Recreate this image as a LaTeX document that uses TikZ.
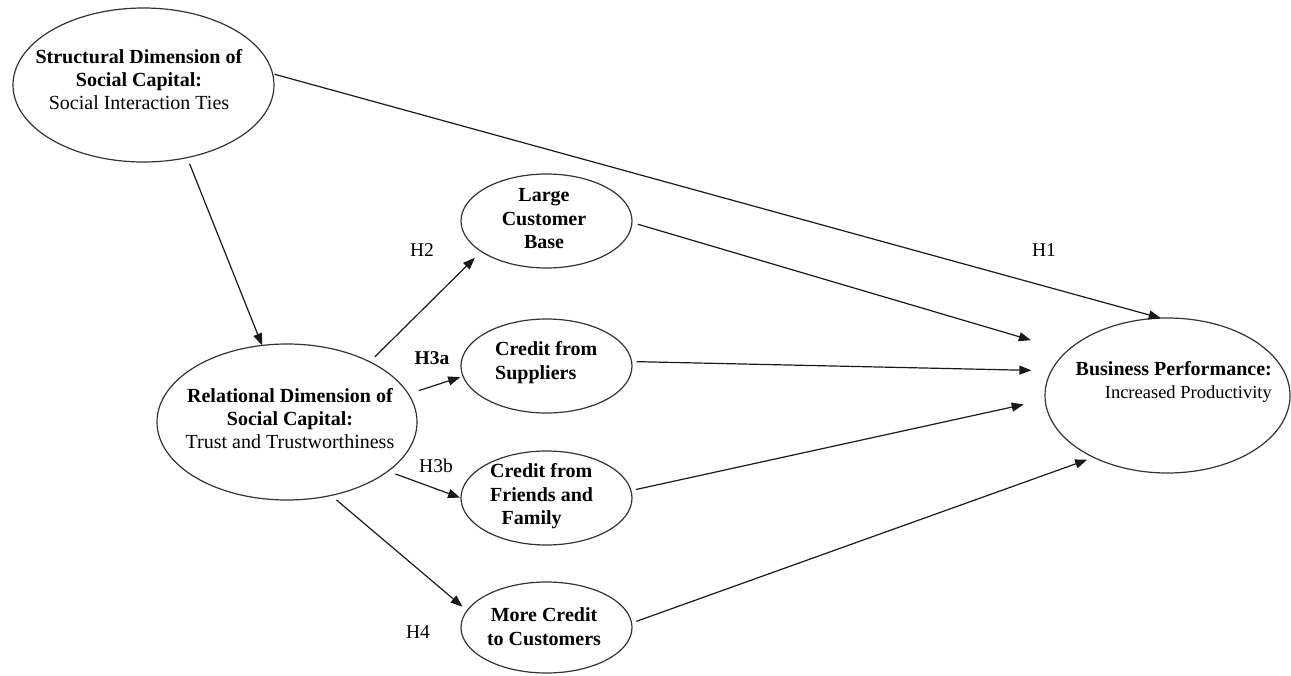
\documentclass[tikz,border=0pt]{standalone}
\usepackage{fontspec}
\setmainfont{Liberation Serif}
\usetikzlibrary{arrows.meta,shapes.geometric}
\begin{document}
\begin{tikzpicture}[x=1pt,y=-1pt,
  oval/.style={ellipse, draw=black!80, line width=1.2pt, inner sep=0pt, outer sep=0pt},
  txt/.style={font=\fontsize{20}{23}\selectfont, inner sep=0pt, align=center, text=black},
  hyp/.style={font=\fontsize{19.5}{22}\selectfont, inner sep=0pt, text=black},
  arr/.style={draw=black!90, line width=1.2pt, -{Triangle[length=12pt,width=9pt]}}]
\useasboundingbox (0,0) rectangle (1291,675);
% ellipses
\node[oval, minimum width=261pt, minimum height=154pt] (str) at (143.5,85) {};
\node[oval, minimum width=260pt, minimum height=156pt] (rel) at (287,422) {};
\node[oval, minimum width=171pt, minimum height=94pt] (lcb) at (546.5,221) {};
\node[oval, minimum width=171pt, minimum height=94pt] (cfs) at (546.5,366) {};
\node[oval, minimum width=171pt, minimum height=94pt] (cff) at (546.5,498) {};
\node[oval, minimum width=171pt, minimum height=91pt] (mcc) at (546.5,627.5) {};
\node[oval, minimum width=245pt, minimum height=155pt] (bp) at (1167.5,395.5) {};
% texts
\node[txt] (strt) at (139,80) {\textbf{Structural Dimension of}\\ \textbf{Social Capital:}\\ Social Interaction Ties};
\node[txt] (relt) at (290,419) {\textbf{Relational Dimension of}\\ \textbf{Social Capital:}\\ Trust and Trustworthiness};
\node[txt, font=\bfseries\fontsize{20}{23.5}\selectfont] (lcbt) at (544,219) {Large\\ Customer\\ Base};
\node[txt, align=left, font=\bfseries\fontsize{20}{23.5}\selectfont, anchor=west] (cfst) at (495,362.5) {Credit from\\ Suppliers};
\node[txt, align=left, font=\bfseries\fontsize{20}{23.5}\selectfont, anchor=west] (cfft) at (490,496.5) {Credit from\\ Friends and\\ \hspace*{11.5pt}Family};
\node[txt, font=\bfseries\fontsize{20}{23.5}\selectfont] (mcct) at (544,626.5) {More Credit\\ to Customers};
\node[txt, align=right, anchor=east] (bpt) at (1272,381.5) {\textbf{Business Performance:}\\ \fontsize{18.5}{23}\selectfont Increased Productivity};
% hypothesis labels
\node[hyp] (h1) at (1044,250) {H1};
\node[hyp] (h2) at (422,250) {H2};
\node[hyp, font=\bfseries\fontsize{19.5}{22}\selectfont] (h3a) at (432,358) {H3a};
\node[hyp] (h3b) at (436,466) {H3b};
\node[hyp] (h4) at (418,632) {H4};
% arrows
\draw[arr, shorten <=7pt] (str.-59.6) -- (rel.108.6);
\draw[arr, shorten <=2pt] (str.5.7) -- (bp.95.3);
\draw[arr, shorten <=7pt, shorten >=9pt] (rel.36.4) -- (lcb.205.9);
\draw[arr, shorten <=11pt, shorten >=3pt] (rel.13.7) -- (cfs.187.3);
\draw[arr, shorten <=8pt, shorten >=1pt] (rel.-26.1) -- (cff.180);
\draw[arr, shorten <=7pt, shorten >=6pt] (rel.-59) -- (mcc.168.8);
\draw[arr, shorten <=6pt, shorten >=38pt] (lcb.-1.9) -- (bp.156.7);
\draw[arr, shorten <=5pt, shorten >=20pt] (cfs.3.9) -- (bp.168.9);
\draw[arr, shorten <=5pt, shorten >=22pt] (cff.5.1) -- (bp.182.8);
\draw[arr, shorten <=5pt, shorten >=7pt] (mcc.3.2) -- (bp.220);
\end{tikzpicture}
\end{document}
